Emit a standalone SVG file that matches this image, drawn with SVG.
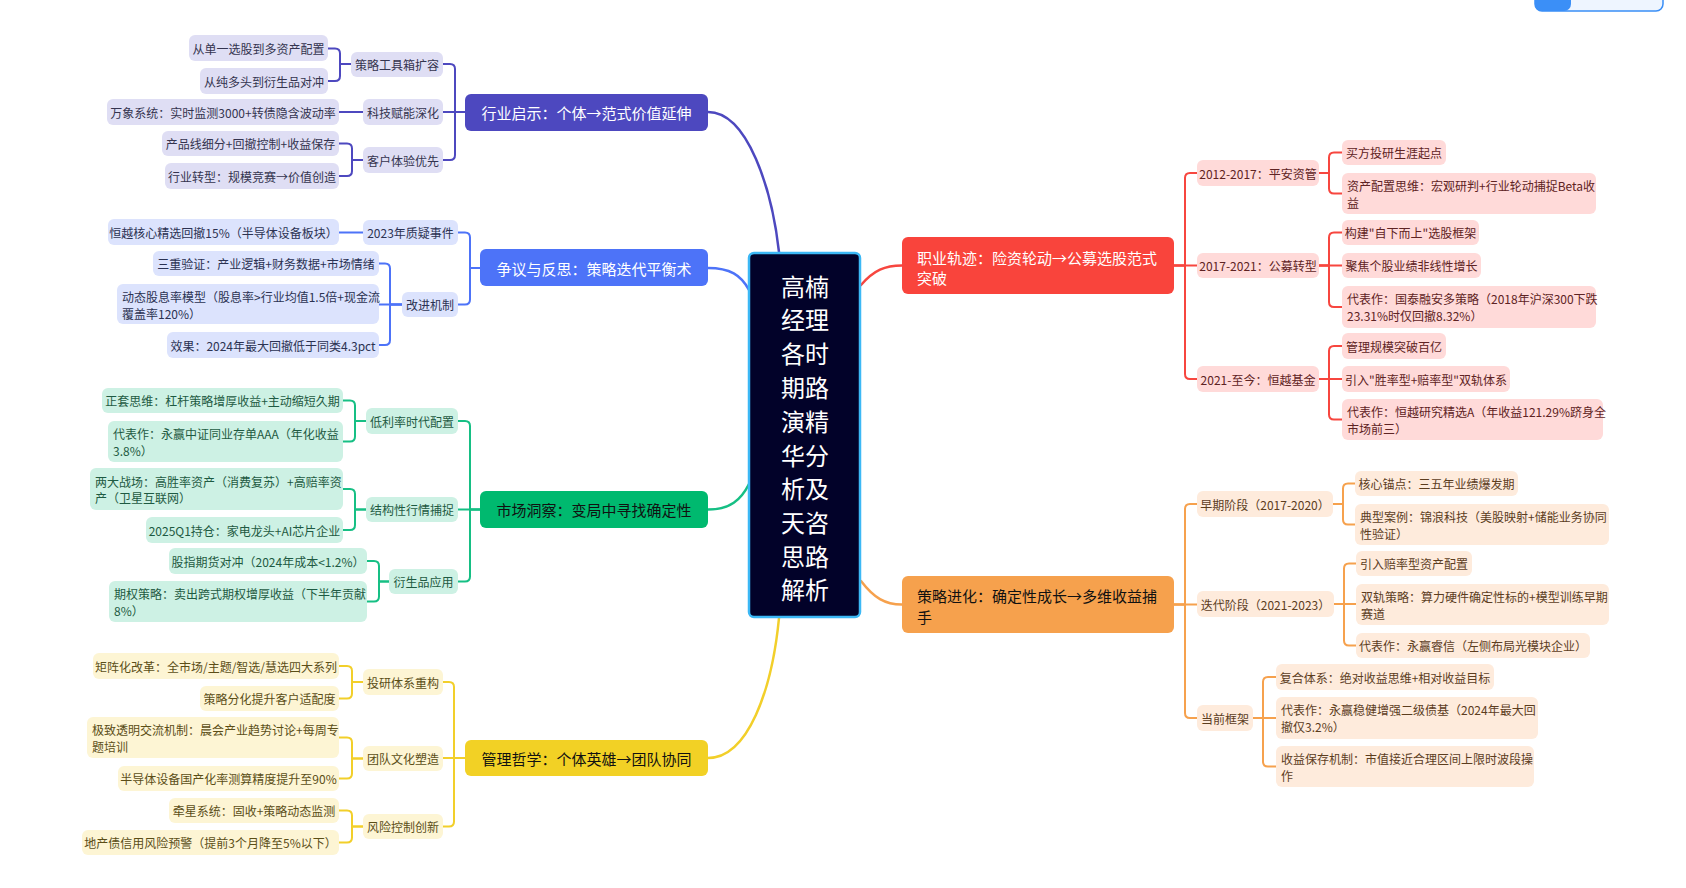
<svg xmlns="http://www.w3.org/2000/svg" width="1686" height="888" viewBox="0 0 1686 888">
<style>
text{font-family:"Noto Sans CJK SC","Noto Sans",sans-serif;dominant-baseline:central}
.s{font-size:12px}
.m{font-size:15px}
.c{font-size:24px;fill:#fff;text-anchor:middle}
.mid{text-anchor:middle}
.cn{fill:none;stroke-width:2;stroke-linecap:round}
.cm{fill:none;stroke-width:2.5;stroke-linecap:round}
.iF{fill:#DFDEF4}.iT{fill:#34344f}.iS{stroke:#4D48BF}
.bF{fill:#DCE3FD}.bT{fill:#2b3252}.bS{stroke:#4D73F8}
.gF{fill:#CDF1E4}.gT{fill:#1e5a42}.gS{stroke:#16BF84}
.yF{fill:#FDF5D4}.yT{fill:#5b4e17}.yS{stroke:#F2CF2A}
.rF{fill:#FFDAD9}.rT{fill:#5e2323}.rS{stroke:#F7463F}
.oF{fill:#FEEBDC}.oT{fill:#5c3d1e}.oS{stroke:#F6A14D}
</style>
<rect width="1686" height="888" fill="#fff"/>
<g id="topbar">
<rect x="1535" y="-9" width="128" height="20" rx="7" fill="#EEF5FF" stroke="#3A8EF6" stroke-width="1.5"/>
<rect x="1535" y="-9" width="36" height="20" rx="7" fill="#3B8FF7"/>
</g>
<g id="connectors">
<g class="iS">
<path class="cm" d="M708,112 C748,112 772,190 779,252"/>
<path class="cn" d="M465,112 H455 V69 Q455,64 450,64 H443"/>
<path class="cn" d="M465,112 H443"/>
<path class="cn" d="M465,112 H455 V155 Q455,160 450,160 H443"/>
<path class="cn" d="M351,64 H340 V53.5 Q340,48.5 335,48.5 H328"/>
<path class="cn" d="M351,64 H340 V76 Q340,81 335,81 H328"/>
<path class="cn" d="M363,112 H339"/>
<path class="cn" d="M363,160 H352 V148.5 Q352,143.5 347,143.5 H339"/>
<path class="cn" d="M363,160 H352 V171 Q352,176 347,176 H339"/>
</g>
<g class="bS">
<path class="cm" d="M708,268 C730,268 741,275 749,290"/>
<path class="cn" d="M480,268 H470 V237.5 Q470,232.5 465,232.5 H458"/>
<path class="cn" d="M480,268 H470 V299.5 Q470,304.5 465,304.5 H458"/>
<path class="cn" d="M363,232.5 H339"/>
<path class="cn" d="M402,304.5 H390 V268.5 Q390,263.5 385,263.5 H379"/>
<path class="cn" d="M402,304.5 H379"/>
<path class="cn" d="M402,304.5 H390 V340 Q390,345 385,345 H379"/>
</g>
<g class="gS">
<path class="cm" d="M708,509.5 C730,509.5 741,500 749,484"/>
<path class="cn" d="M480,509.5 H470 V426 Q470,421 465,421 H458"/>
<path class="cn" d="M480,509.5 H458"/>
<path class="cn" d="M480,509.5 H470 V576.5 Q470,581.5 465,581.5 H458"/>
<path class="cn" d="M366,421 H355 V405.5 Q355,400.5 350,400.5 H343"/>
<path class="cn" d="M366,421 H355 V436.5 Q355,441.5 350,441.5 H343"/>
<path class="cn" d="M366,509.5 H355 V494 Q355,489 350,489 H343"/>
<path class="cn" d="M366,509.5 H355 V525 Q355,530 350,530 H343"/>
<path class="cn" d="M389,581.5 H379 V566 Q379,561 374,561 H367"/>
<path class="cn" d="M389,581.5 H379 V596.5 Q379,601.5 374,601.5 H367"/>
</g>
<g class="yS">
<path class="cm" d="M708,758 C748,758 772,690 779,618"/>
<path class="cn" d="M465,758 H454 V687 Q454,682 449,682 H443"/>
<path class="cn" d="M465,758 H443"/>
<path class="cn" d="M465,758 H454 V821.5 Q454,826.5 449,826.5 H443"/>
<path class="cn" d="M363,682 H352 V671 Q352,666 347,666 H339"/>
<path class="cn" d="M363,682 H352 V693.5 Q352,698.5 347,698.5 H339"/>
<path class="cn" d="M363,758.5 H352 V742.5 Q352,737.5 347,737.5 H339"/>
<path class="cn" d="M363,758.5 H352 V773.5 Q352,778.5 347,778.5 H339"/>
<path class="cn" d="M363,826.5 H352 V815.5 Q352,810.5 347,810.5 H339"/>
<path class="cn" d="M363,826.5 H352 V837.5 Q352,842.5 347,842.5 H339"/>
</g>
<g class="rS">
<path class="cm" d="M861,285 C874,270 885,265.5 902,265.5"/>
<path class="cn" d="M1174,265.5 H1185 V178 Q1185,173 1190,173 H1197"/>
<path class="cn" d="M1174,265.5 H1197"/>
<path class="cn" d="M1174,265.5 H1185 V374 Q1185,379 1190,379 H1197"/>
<path class="cn" d="M1319,173 H1329 V157.5 Q1329,152.5 1334,152.5 H1342"/>
<path class="cn" d="M1319,173 H1329 V188.5 Q1329,193.5 1334,193.5 H1342"/>
<path class="cn" d="M1319,265.5 H1329 V237.5 Q1329,232.5 1334,232.5 H1342"/>
<path class="cn" d="M1319,265.5 H1342"/>
<path class="cn" d="M1319,265.5 H1329 V302 Q1329,307 1334,307 H1342"/>
<path class="cn" d="M1319,379 H1329 V351 Q1329,346 1334,346 H1342"/>
<path class="cn" d="M1319,379 H1342"/>
<path class="cn" d="M1319,379 H1329 V414.5 Q1329,419.5 1334,419.5 H1342"/>
</g>
<g class="oS">
<path class="cm" d="M861,581 C874,598 885,604.5 902,604.5"/>
<path class="cn" d="M1174,604.5 H1185 V509 Q1185,504 1190,504 H1197"/>
<path class="cn" d="M1174,604.5 H1197"/>
<path class="cn" d="M1174,604.5 H1185 V713 Q1185,718 1190,718 H1197"/>
<path class="cn" d="M1333,504 H1343 V488.5 Q1343,483.5 1348,483.5 H1355"/>
<path class="cn" d="M1333,504 H1343 V519.5 Q1343,524.5 1348,524.5 H1355"/>
<path class="cn" d="M1334,604 H1344 V568.5 Q1344,563.5 1349,563.5 H1356"/>
<path class="cn" d="M1334,604 H1356"/>
<path class="cn" d="M1334,604 H1344 V640.5 Q1344,645.5 1349,645.5 H1356"/>
<path class="cn" d="M1253,718 H1263 V682 Q1263,677 1268,677 H1276"/>
<path class="cn" d="M1253,718 H1276"/>
<path class="cn" d="M1253,718 H1263 V761.5 Q1263,766.5 1268,766.5 H1276"/>
</g>
</g>

<g id="center">
<rect x="749" y="253" width="111" height="364" rx="5" fill="#020229" stroke="#3CB8F5" stroke-width="2.5"/>
<text class="c" x="805" y="285">高楠</text>
<text class="c" x="805" y="318.5">经理</text>
<text class="c" x="805" y="352">各时</text>
<text class="c" x="805" y="386">期路</text>
<text class="c" x="805" y="420">演精</text>
<text class="c" x="805" y="454">华分</text>
<text class="c" x="805" y="487.5">析及</text>
<text class="c" x="805" y="521">天咨</text>
<text class="c" x="805" y="555">思路</text>
<text class="c" x="805" y="588.5">解析</text>
</g>

<!-- indigo -->
<g id="m-industry"><rect x="465" y="94" width="243" height="37" rx="6" fill="#4D48BF"/><text class="m mid" x="586.5" y="112.5" fill="#fff">行业启示：个体→范式价值延伸</text></g>
<g id="s-tools"><rect class="iF" x="351" y="52" width="92" height="25" rx="6"/><text class="s mid iT" x="397" y="64.5">策略工具箱扩容</text></g>
<g id="s-tech"><rect class="iF" x="363" y="99" width="80" height="26" rx="6"/><text class="s mid iT" x="403" y="112">科技赋能深化</text></g>
<g id="s-client"><rect class="iF" x="363" y="147" width="80" height="26" rx="6"/><text class="s mid iT" x="403" y="160">客户体验优先</text></g>
<g id="l-i1"><rect class="iF" x="189" y="35" width="139" height="26" rx="6"/><text class="s mid iT" x="258.5" y="48">从单一选股到多资产配置</text></g>
<g id="l-i2"><rect class="iF" x="200" y="68" width="128" height="26" rx="6"/><text class="s mid iT" x="264" y="81">从纯多头到衍生品对冲</text></g>
<g id="l-i3"><rect class="iF" x="107" y="99" width="232" height="26" rx="6"/><text class="s mid iT" x="223" y="112">万象系统：实时监测3000+转债隐含波动率</text></g>
<g id="l-i4"><rect class="iF" x="162" y="131" width="177" height="25" rx="6"/><text class="s mid iT" x="250.5" y="143.5">产品线细分+回撤控制+收益保存</text></g>
<g id="l-i5"><rect class="iF" x="165" y="163" width="174" height="26" rx="6"/><text class="s mid iT" x="252" y="176">行业转型：规模竞赛→价值创造</text></g>

<!-- blue -->
<g id="m-debate"><rect x="480" y="249" width="228" height="37" rx="6" fill="#4D73F8"/><text class="m mid" x="594" y="268" fill="#fff">争议与反思：策略迭代平衡术</text></g>
<g id="s-2023"><rect class="bF" x="363" y="220" width="95" height="25" rx="6"/><text class="s mid bT" x="410.5" y="232.5">2023年质疑事件</text></g>
<g id="s-improve"><rect class="bF" x="402" y="292" width="56" height="25" rx="6"/><text class="s mid bT" x="430" y="304.5">改进机制</text></g>
<g id="l-b1"><rect class="bF" x="108" y="219" width="231" height="26" rx="6"/><text class="s mid bT" x="223.5" y="232">恒越核心精选回撤15%（半导体设备板块）</text></g>
<g id="l-b2"><rect class="bF" x="153" y="251" width="226" height="25" rx="6"/><text class="s mid bT" x="266" y="263.5">三重验证：产业逻辑+财务数据+市场情绪</text></g>
<g id="l-b3"><rect class="bF" x="117" y="284" width="262" height="40" rx="6"/><text class="s bT" x="122" y="296.7">动态股息率模型（股息率&gt;行业均值1.5倍+现金流</text><text class="s bT" x="122" y="313.3">覆盖率120%）</text></g>
<g id="l-b4"><rect class="bF" x="167" y="332" width="212" height="26" rx="6"/><text class="s mid bT" x="273" y="345">效果：2024年最大回撤低于同类4.3pct</text></g>

<!-- green -->
<g id="m-market"><rect x="480" y="491" width="228" height="37" rx="6" fill="#00B96F"/><text class="m mid" x="594" y="509.5" fill="#111">市场洞察：变局中寻找确定性</text></g>
<g id="s-lowrate"><rect class="gF" x="366" y="408" width="92" height="26" rx="6"/><text class="s mid gT" x="412" y="421">低利率时代配置</text></g>
<g id="s-struct"><rect class="gF" x="366" y="497" width="92" height="25" rx="6"/><text class="s mid gT" x="412" y="509.5">结构性行情捕捉</text></g>
<g id="s-deriv"><rect class="gF" x="389" y="569" width="69" height="25" rx="6"/><text class="s mid gT" x="423.5" y="581.5">衍生品应用</text></g>
<g id="l-g1"><rect class="gF" x="102" y="388" width="241" height="25" rx="6"/><text class="s mid gT" x="222.5" y="400.5">正套思维：杠杆策略增厚收益+主动缩短久期</text></g>
<g id="l-g2"><rect class="gF" x="108" y="421" width="235" height="41" rx="6"/><text class="s gT" x="113" y="433.7">代表作：永赢中证同业存单AAA（年化收益</text><text class="s gT" x="113" y="450.3">3.8%）</text></g>
<g id="l-g3"><rect class="gF" x="90" y="468" width="253" height="42" rx="6"/><text class="s gT" x="95" y="481">两大战场：高胜率资产（消费复苏）+高赔率资</text><text class="s gT" x="95" y="497.5">产（卫星互联网）</text></g>
<g id="l-g4"><rect class="gF" x="146" y="517" width="197" height="26" rx="6"/><text class="s mid gT" x="244.5" y="530">2025Q1持仓：家电龙头+AI芯片企业</text></g>
<g id="l-g5"><rect class="gF" x="169" y="548" width="198" height="26" rx="6"/><text class="s mid gT" x="268" y="561">股指期货对冲（2024年成本&lt;1.2%）</text></g>
<g id="l-g6"><rect class="gF" x="109" y="581" width="258" height="41" rx="6"/><text class="s gT" x="114" y="593.7">期权策略：卖出跨式期权增厚收益（下半年贡献</text><text class="s gT" x="114" y="610.3">8%）</text></g>

<!-- yellow -->
<g id="m-manage"><rect x="465" y="740" width="243" height="36" rx="6" fill="#F2D125"/><text class="m mid" x="586.5" y="758" fill="#111">管理哲学：个体英雄→团队协同</text></g>
<g id="s-research"><rect class="yF" x="363" y="669" width="80" height="26" rx="6"/><text class="s mid yT" x="403" y="682">投研体系重构</text></g>
<g id="s-culture"><rect class="yF" x="363" y="746" width="80" height="25" rx="6"/><text class="s mid yT" x="403" y="758.5">团队文化塑造</text></g>
<g id="s-risk"><rect class="yF" x="363" y="814" width="80" height="25" rx="6"/><text class="s mid yT" x="403" y="826.5">风险控制创新</text></g>
<g id="l-y1"><rect class="yF" x="93" y="653" width="246" height="26" rx="6"/><text class="s mid yT" x="216" y="666">矩阵化改革：全市场/主题/智选/慧选四大系列</text></g>
<g id="l-y2"><rect class="yF" x="200" y="686" width="139" height="25" rx="6"/><text class="s mid yT" x="269.5" y="698.5">策略分化提升客户适配度</text></g>
<g id="l-y3"><rect class="yF" x="87" y="717" width="252" height="41" rx="6"/><text class="s yT" x="92" y="729.7">极致透明交流机制：晨会产业趋势讨论+每周专</text><text class="s yT" x="92" y="746.3">题培训</text></g>
<g id="l-y4"><rect class="yF" x="118" y="766" width="221" height="25" rx="6"/><text class="s mid yT" x="228.5" y="778.5">半导体设备国产化率测算精度提升至90%</text></g>
<g id="l-y5"><rect class="yF" x="169" y="798" width="170" height="25" rx="6"/><text class="s mid yT" x="254" y="810.5">牵星系统：固收+策略动态监测</text></g>
<g id="l-y6"><rect class="yF" x="82" y="830" width="257" height="25" rx="6"/><text class="s mid yT" x="210.5" y="842.5">地产债信用风险预警（提前3个月降至5%以下）</text></g>

<!-- red -->
<g id="m-career"><rect x="902" y="237" width="272" height="57" rx="6" fill="#F9443C"/><text class="m" x="917" y="257" fill="#fff">职业轨迹：险资轮动→公募选股范式</text><text class="m" x="917" y="277" fill="#fff">突破</text></g>
<g id="s-2012"><rect class="rF" x="1197" y="160" width="122" height="26" rx="6"/><text class="s mid rT" x="1258" y="173">2012-2017：平安资管</text></g>
<g id="s-2017"><rect class="rF" x="1197" y="253" width="122" height="25" rx="6"/><text class="s mid rT" x="1258" y="265.5">2017-2021：公募转型</text></g>
<g id="s-2021"><rect class="rF" x="1197" y="366" width="122" height="26" rx="6"/><text class="s mid rT" x="1258" y="379">2021-至今：恒越基金</text></g>
<g id="l-r1"><rect class="rF" x="1342" y="140" width="104" height="25" rx="6"/><text class="s mid rT" x="1394" y="152.5">买方投研生涯起点</text></g>
<g id="l-r2"><rect class="rF" x="1342" y="173" width="254" height="41" rx="6"/><text class="s rT" x="1347" y="185.7">资产配置思维：宏观研判+行业轮动捕捉Beta收</text><text class="s rT" x="1347" y="202.3">益</text></g>
<g id="l-r3"><rect class="rF" x="1342" y="220" width="137" height="25" rx="6"/><text class="s mid rT" x="1410.5" y="232.5">构建"自下而上"选股框架</text></g>
<g id="l-r4"><rect class="rF" x="1342" y="253" width="139" height="25" rx="6"/><text class="s mid rT" x="1411.5" y="265.5">聚焦个股业绩非线性增长</text></g>
<g id="l-r5"><rect class="rF" x="1342" y="286" width="254" height="42" rx="6"/><text class="s rT" x="1347" y="298.7">代表作：国泰融安多策略（2018年沪深300下跌</text><text class="s rT" x="1347" y="315.3">23.31%时仅回撤8.32%）</text></g>
<g id="l-r6"><rect class="rF" x="1342" y="333" width="104" height="26" rx="6"/><text class="s mid rT" x="1394" y="346">管理规模突破百亿</text></g>
<g id="l-r7"><rect class="rF" x="1342" y="366" width="168" height="26" rx="6"/><text class="s mid rT" x="1426" y="379">引入"胜率型+赔率型"双轨体系</text></g>
<g id="l-r8"><rect class="rF" x="1342" y="399" width="261" height="41" rx="6"/><text class="s rT" x="1347" y="411.7">代表作：恒越研究精选A（年收益121.29%跻身全</text><text class="s rT" x="1347" y="428.3">市场前三）</text></g>

<!-- orange -->
<g id="m-strategy"><rect x="902" y="576" width="272" height="57" rx="6" fill="#F6A14D"/><text class="m" x="917" y="595" fill="#111">策略进化：确定性成长→多维收益捕</text><text class="m" x="917" y="616" fill="#111">手</text></g>
<g id="s-early"><rect class="oF" x="1197" y="491" width="136" height="26" rx="6"/><text class="s mid oT" x="1265" y="504">早期阶段（2017-2020）</text></g>
<g id="s-iter"><rect class="oF" x="1197" y="591" width="137" height="26" rx="6"/><text class="s mid oT" x="1265.5" y="604">迭代阶段（2021-2023）</text></g>
<g id="s-now"><rect class="oF" x="1197" y="705" width="56" height="26" rx="6"/><text class="s mid oT" x="1225" y="718">当前框架</text></g>
<g id="l-o1"><rect class="oF" x="1355" y="471" width="163" height="25" rx="6"/><text class="s mid oT" x="1436.5" y="483.5">核心锚点：三五年业绩爆发期</text></g>
<g id="l-o2"><rect class="oF" x="1355" y="504" width="254" height="41" rx="6"/><text class="s oT" x="1360" y="516.7">典型案例：锦浪科技（美股映射+储能业务协同</text><text class="s oT" x="1360" y="533.3">性验证）</text></g>
<g id="l-o3"><rect class="oF" x="1356" y="551" width="116" height="25" rx="6"/><text class="s mid oT" x="1414" y="563.5">引入赔率型资产配置</text></g>
<g id="l-o4"><rect class="oF" x="1356" y="584" width="253" height="41" rx="6"/><text class="s oT" x="1361" y="596.7">双轨策略：算力硬件确定性标的+模型训练早期</text><text class="s oT" x="1361" y="613.3">赛道</text></g>
<g id="l-o5"><rect class="oF" x="1356" y="633" width="234" height="25" rx="6"/><text class="s mid oT" x="1473" y="645.5">代表作：永赢睿信（左侧布局光模块企业）</text></g>
<g id="l-o6"><rect class="oF" x="1276" y="664" width="218" height="26" rx="6"/><text class="s mid oT" x="1385" y="677">复合体系：绝对收益思维+相对收益目标</text></g>
<g id="l-o7"><rect class="oF" x="1276" y="697" width="262" height="42" rx="6"/><text class="s oT" x="1281" y="709.7">代表作：永赢稳健增强二级债基（2024年最大回</text><text class="s oT" x="1281" y="726.3">撤仅3.2%）</text></g>
<g id="l-o8"><rect class="oF" x="1276" y="746" width="258" height="41" rx="6"/><text class="s oT" x="1281" y="758.7">收益保存机制：市值接近合理区间上限时波段操</text><text class="s oT" x="1281" y="775.3">作</text></g>
</svg>
